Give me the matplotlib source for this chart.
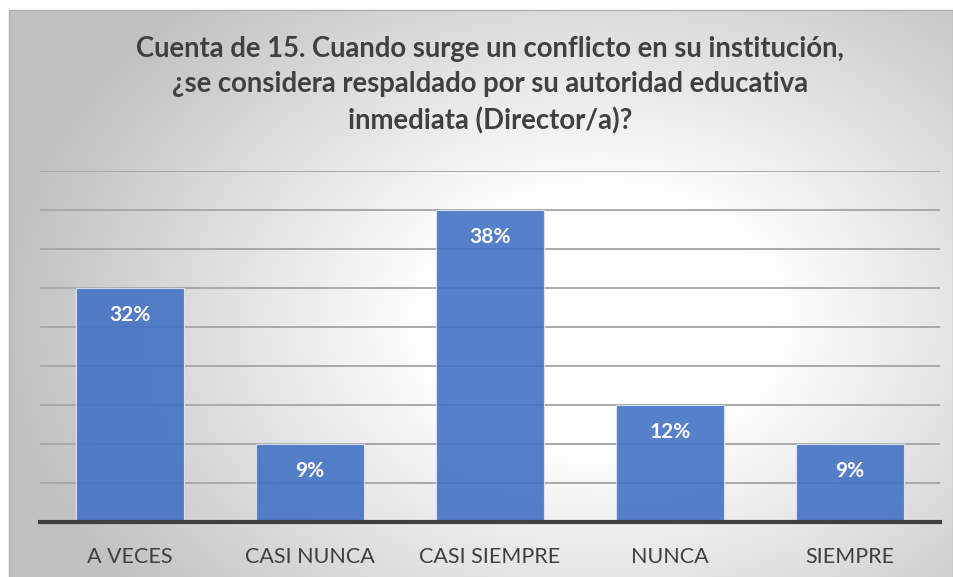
import numpy as np
import matplotlib
matplotlib.use("Agg")
import matplotlib.pyplot as plt
from matplotlib.lines import Line2D

categories = ["A VECES", "CASI NUNCA", "CASI SIEMPRE", "NUNCA", "SIEMPRE"]
counts = [6, 2, 8, 3, 2]
pct_labels = ["32%", "9%", "38%", "12%", "9%"]
title = ("Cuenta de 15. Cuando surge un conflicto en su institución,\n"
         "¿se considera respaldado por su autoridad educativa\n"
         "inmediata (Director/a)?")

W, H = 954, 577
fig = plt.figure(figsize=(W / 100, H / 100), dpi=100)

# background radial gradient
yy, xx = np.mgrid[0:H, 0:W]
d = np.sqrt(((xx - 600) / 540.0) ** 2 + ((yy - 320) / 400.0) ** 2)
v = 255 - 62 * np.clip((d - 0.32) / 0.78, 0, 1)
v[(xx < 9) | (yy < 10)] = 255
img = np.dstack([v, v, v]).astype(np.uint8)
bg = fig.add_axes([0, 0, 1, 1], zorder=0)
bg.imshow(img, extent=[0, W, H, 0], aspect="auto", interpolation="bilinear")
bg.set_xlim(0, W)
bg.set_ylim(H, 0)
bg.axis("off")
bg.add_line(Line2D([9, 9, 953, 953], [H, 10, 10, H], color="#b0b0b0", lw=1.0))

ax = fig.add_axes([40 / W, 1 - 522 / H, 900 / W, (522 - 171) / H], zorder=1)
ax.patch.set_alpha(0)
x = np.arange(len(categories))
bars = ax.bar(x, counts, width=0.6, color="#4472C4", alpha=0.9,
              edgecolor="#dfe6f3", linewidth=0.8, zorder=2)
ax.set_xlim(-0.5, len(categories) - 0.5)
ax.set_ylim(0, 9)
ax.set_yticks(np.arange(1, 10))
ax.yaxis.grid(True, color="#a9a9a9", linewidth=1.4, zorder=1)
ax.set_axisbelow(True)
ax.tick_params(axis="y", left=False, labelleft=False)
ax.tick_params(axis="x", length=0, pad=18, labelsize=15.5, labelcolor="#404040")
ax.set_xticks(x)
ax.set_xticklabels(categories, family="Lato")
for s in ["top", "right", "left"]:
    ax.spines[s].set_visible(False)
ax.spines["bottom"].set_color("#404040")
ax.spines["bottom"].set_linewidth(3)
ax.spines["bottom"].set_zorder(3)

for b, lab in zip(bars, pct_labels):
    ax.annotate(lab, (b.get_x() + b.get_width() / 2, b.get_height()),
                xytext=(0, -19.5), textcoords="offset points",
                ha="center", va="center", color="white",
                fontsize=15, fontweight="bold", family="Lato", zorder=4)

fig.text(490 / W, 1 - 85 / H, title, ha="center", va="center",
         fontsize=19.8, fontweight="bold", color="#404040", family="Lato",
         linespacing=1.45)

fig.savefig("out.png", dpi=100)
